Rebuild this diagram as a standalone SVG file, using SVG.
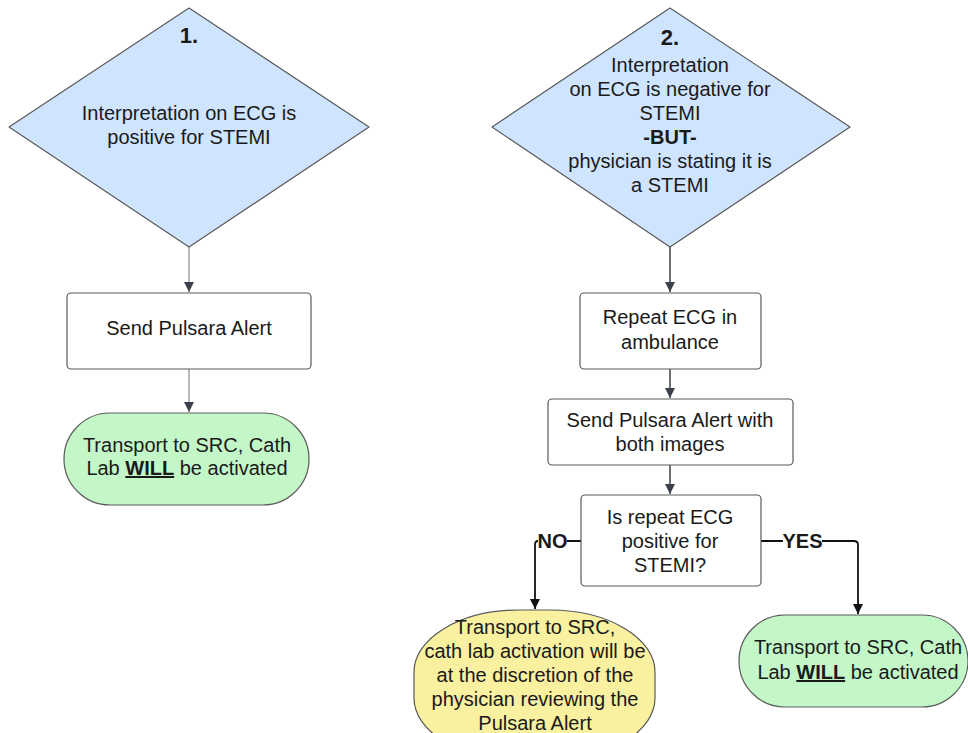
<svg xmlns="http://www.w3.org/2000/svg" width="968" height="733" viewBox="0 0 968 733">
<defs>
<style>
text{font-family:"Liberation Sans",Arial,sans-serif;font-size:20px;fill:#1a1a1a;text-anchor:middle}
.b{font-weight:bold}
.dia{fill:#cfe4ff;stroke:#5a5a5a;stroke-width:1.2;stroke-linejoin:round}
.box{fill:#ffffff;stroke:#5a5a5a;stroke-width:1.2}
.grn{fill:#c3f7c8;stroke:#5a5a5a;stroke-width:1.2}
.yel{fill:#f9f0a0;stroke:#5a5a5a;stroke-width:1.2}
.c1{fill:none;stroke:#8a8a8a;stroke-width:1.2}
.c2{fill:none;stroke:#3a414a;stroke-width:1.5}
.c3{fill:none;stroke:#111111;stroke-width:1.8}
</style>
<marker id="ah" viewBox="0 0 10 10" refX="10" refY="5" markerWidth="10" markerHeight="10" markerUnits="userSpaceOnUse" orient="auto">
<path d="M0,0 L10,5 L0,10 z" fill="#3a414a"/>
</marker>
<marker id="ahk" viewBox="0 0 10 10" refX="10" refY="5" markerWidth="10" markerHeight="10" markerUnits="userSpaceOnUse" orient="auto">
<path d="M0,0 L10,5 L0,10 z" fill="#111111"/>
</marker>
</defs>
<rect width="968" height="733" fill="#ffffff"/>

<g id="connectors">
<path class="c1" d="M189,247 L189,292" marker-end="url(#ah)"/>
<path class="c1" d="M189,369 L189,412" marker-end="url(#ah)"/>
<path class="c2" d="M670,247 L670,292" marker-end="url(#ah)"/>
<path class="c2" d="M670,369 L670,398" marker-end="url(#ah)"/>
<path class="c2" d="M670,465 L670,494" marker-end="url(#ah)"/>
<path class="c3" d="M581,541 L567,541 M538,541 Q535,541 535,545 L535,609" marker-end="url(#ahk)"/>
<path class="c3" d="M761,541 L783,541 M822,541 L854,541 Q858,541 858,545 L858,614" marker-end="url(#ahk)"/>
<text class="b" x="552.5" y="548">NO</text>
<text class="b" x="802.5" y="548">YES</text>
</g>

<g id="decision1">
<path class="dia" d="M189,8 L369,127 L189,247 L9,127 Z"/>
<text class="b" x="189" y="43" style="font-size:22px">1.</text>
<text x="189" y="120">Interpretation on ECG is</text>
<text x="189" y="144">positive for STEMI</text>
</g>

<g id="send1">
<rect class="box" x="67" y="293" width="244" height="76" rx="4"/>
<text x="189" y="335">Send Pulsara Alert</text>
</g>

<g id="transport1">
<rect class="grn" x="64" y="413" width="245" height="92" rx="46"/>
<text x="187" y="452">Transport to SRC, Cath</text>
<text x="187" y="475">Lab <tspan class="b" text-decoration="underline">WILL</tspan> be activated</text>
</g>

<g id="decision2">
<path class="dia" d="M670,8 L850,127 L670,247 L492,127 Z"/>
<text class="b" x="670" y="45" style="font-size:22px">2.</text>
<text x="670" y="72">Interpretation</text>
<text x="670" y="96">on ECG is negative for</text>
<text x="670" y="120">STEMI</text>
<text class="b" x="670" y="144">-BUT-</text>
<text x="670" y="168">physician is stating it is</text>
<text x="670" y="192">a STEMI</text>
</g>

<g id="repeat">
<rect class="box" x="580" y="293" width="181" height="76" rx="4"/>
<text x="670" y="324">Repeat ECG in</text>
<text x="670" y="349">ambulance</text>
</g>

<g id="send2">
<rect class="box" x="548" y="399" width="245" height="66" rx="4"/>
<text x="670" y="427">Send Pulsara Alert with</text>
<text x="670" y="451">both images</text>
</g>

<g id="question">
<rect class="box" x="581" y="495" width="180" height="91" rx="4"/>
<text x="670" y="524">Is repeat ECG</text>
<text x="670" y="548">positive for</text>
<text x="670" y="572">STEMI?</text>
</g>

<g id="discretion">
<rect class="yel" x="414" y="610" width="241" height="150" rx="105" ry="62"/>
<text x="535" y="634">Transport to SRC,</text>
<text x="535" y="658">cath lab activation will be</text>
<text x="535" y="682">at the discretion of the</text>
<text x="535" y="706">physician reviewing the</text>
<text x="535" y="730">Pulsara Alert</text>
</g>

<g id="transport2">
<rect class="grn" x="739" y="615" width="229" height="92" rx="46"/>
<text x="858" y="654">Transport to SRC, Cath</text>
<text x="858" y="679">Lab <tspan class="b" text-decoration="underline">WILL</tspan> be activated</text>
</g>
</svg>
